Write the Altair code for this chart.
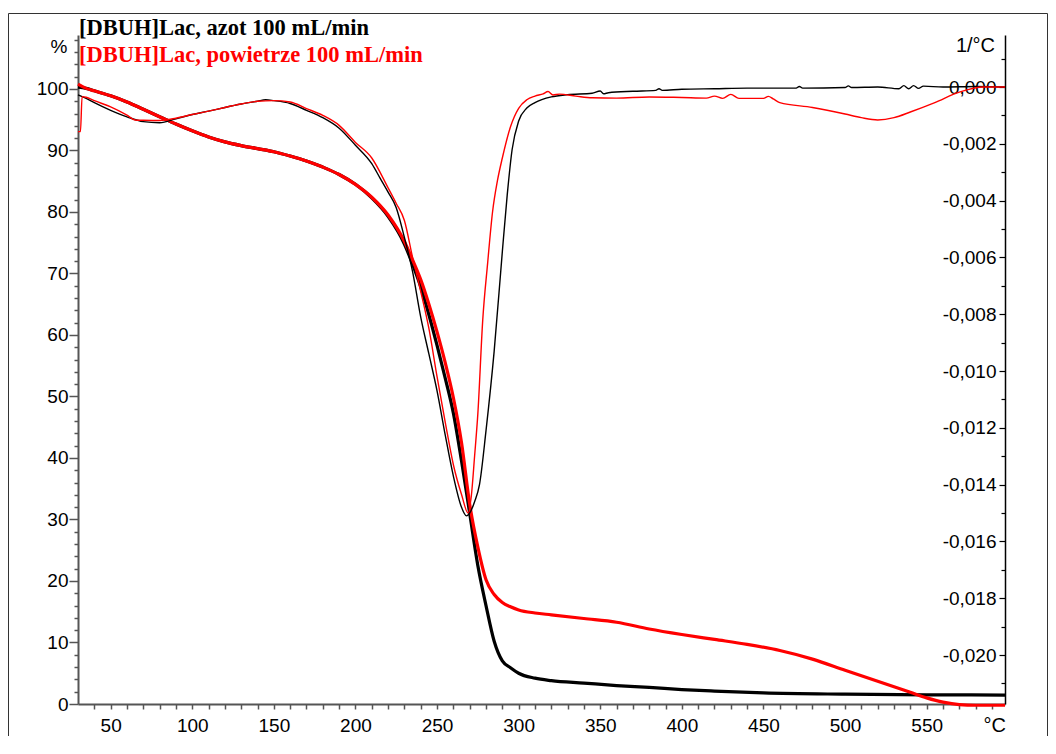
import altair as alt
import pandas as pd

# ---------------- data ----------------
# TG curves (%), left axis
BT_T = [30, 35, 40, 50, 60, 70, 80, 90, 100, 110, 120, 130, 140, 150, 160, 170, 180, 190, 200, 210,
        220, 230, 235, 240, 245, 250, 255, 260, 265, 270, 275, 280, 285, 290, 295, 300, 310, 320, 340,
        360, 380, 400, 420, 450, 500, 550, 598]
BT_V = [100.3, 100.1, 99.7, 98.9, 97.9, 96.7, 95.5, 94.3, 93.2, 92.2, 91.4, 90.8, 90.3, 89.8, 89.1,
        88.3, 87.3, 86.1, 84.5, 82.3, 79.3, 74.8, 71.5, 67.8, 63.3, 58.3, 53.0, 47.3, 39.5, 31.0, 22.5,
        16.0, 10.2, 7.0, 5.9, 5.0, 4.2, 3.8, 3.4, 3.0, 2.7, 2.35, 2.1, 1.8, 1.6, 1.5, 1.45]

RT_T = [30, 35, 40, 50, 60, 70, 80, 90, 100, 110, 120, 130, 140, 150, 160, 170, 180, 190, 200, 210,
        220, 230, 235, 240, 245, 250, 255, 260, 265, 270, 275, 280, 285, 290, 295, 300, 310, 320, 340,
        360, 380, 400, 420, 440, 460, 480, 500, 510, 520, 530, 540, 550, 560, 570, 580, 598]
RT_V = [100.8, 100.1, 99.7, 98.9, 97.9, 96.7, 95.5, 94.3, 93.2, 92.2, 91.4, 90.8, 90.3, 89.8, 89.1,
        88.3, 87.3, 86.1, 84.5, 82.4, 79.5, 75.2, 72.2, 69.0, 65.0, 60.5, 55.5, 49.8, 42.5, 32.5, 25.5,
        20.2, 17.8, 16.5, 15.8, 15.3, 14.8, 14.5, 13.9, 13.3, 12.2, 11.3, 10.5, 9.7, 8.7, 7.3, 5.5,
        4.6, 3.7, 2.8, 1.9, 1.0, 0.3, -0.1, -0.2, -0.2]

# DTG curves (1/°C), right axis
BD_T = [30, 35, 40, 50, 60, 70, 80, 90, 100, 110, 120, 130, 140, 145, 150, 160, 170, 180, 190, 200,
        210, 215, 220, 225, 230, 235, 240, 245, 250, 255, 260, 265, 268, 270, 273, 276, 280, 285, 290,
        293, 296, 300, 305, 310, 320, 330, 345, 350, 352, 355, 370, 384, 386, 388, 400, 420, 440, 470,
        472, 474, 500, 502, 504, 520, 533, 536, 539, 542, 545, 548, 560, 580, 598]
BD_V = [-0.00028, -0.00040, -0.00055, -0.00082, -0.00105, -0.00122, -0.00126, -0.00112, -0.00097,
        -0.00085, -0.00072, -0.00060, -0.00050, -0.00045, -0.00048, -0.00058, -0.00082, -0.00108,
        -0.00145, -0.00205, -0.00270, -0.00320, -0.00370, -0.00425, -0.00530, -0.00650, -0.00810,
        -0.00940, -0.01070, -0.01225, -0.01370, -0.01480, -0.01510, -0.01500, -0.01460, -0.01400,
        -0.01210, -0.00930, -0.00580, -0.00380, -0.00220, -0.00120, -0.00074, -0.00055, -0.00035,
        -0.00027, -0.00022, -0.00014, -0.00024, -0.00020, -0.00015, -0.00012, -0.00006, -0.00012,
        -0.00008, -0.00006, -0.00004, -0.00004, 0.00002, -0.00004, -0.00002, 0.00004, -0.00002,
        0.00000, -0.00006, 0.00005, -0.00006, 0.00005, -0.00005, 0.00003, 0.00000, 0.00002, 0.00000]

RD_T = [30, 31.5, 32.5, 35, 40, 50, 60, 65, 70, 80, 90, 100, 110, 120, 130, 140, 150, 160, 170, 180,
        190, 200, 210, 220, 225, 230, 235, 240, 245, 250, 255, 260, 265, 269, 271, 273, 275, 278, 281,
        284, 287, 290, 295, 300, 305, 310, 315, 318, 321, 325, 335, 345, 360, 380, 400, 415, 420, 425,
        430, 435, 450, 453, 456, 460, 480, 500, 510, 520, 530, 540, 555, 570, 585, 598]
RD_V = [-0.00157, -0.00157, -0.00034, -0.00036, -0.00048, -0.00070, -0.00099, -0.00116, -0.00117,
        -0.00118, -0.00110, -0.00097, -0.00085, -0.00072, -0.00060, -0.00050, -0.00048, -0.00053,
        -0.00076, -0.00100, -0.00135, -0.00195, -0.00250, -0.00355, -0.00410, -0.00470, -0.00600,
        -0.00720, -0.00850, -0.01020, -0.01180, -0.01330, -0.01435, -0.01500, -0.01440, -0.01300,
        -0.01150, -0.00820, -0.00620, -0.00440, -0.00330, -0.00250, -0.00140, -0.00075, -0.00045,
        -0.00032, -0.00024, -0.00016, -0.00028, -0.00025, -0.00032, -0.00038, -0.00039, -0.00035,
        -0.00037, -0.00039, -0.00032, -0.00040, -0.00026, -0.00040, -0.00040, -0.00033, -0.00042,
        -0.00055, -0.00072, -0.00095, -0.00108, -0.00116, -0.00108, -0.00088, -0.00055, -0.00018,
        0.00000, 0.00000]

SERIES_NAMES = ["[DBUH]Lac, azot 100 mL/min", "[DBUH]Lac, powietrze 100 mL/min"]
SERIES_COLORS = ["#000000", "#ff0000"]

# axis ticks
X_TICKS = list(range(40, 600, 10))
Y_TICKS = list(range(0, 110, 2))
R_TICKS = [-0.021, -0.020, -0.019, -0.018, -0.017, -0.016, -0.015, -0.014, -0.013, -0.012, -0.011,
           -0.010, -0.009, -0.008, -0.007, -0.006, -0.005, -0.004, -0.003, -0.002, -0.001, 0.0, 0.001]

X_DOM = [30, 598]
Y_DOM = [0, 108.78]
R_DOM = [-0.021725, 0.001831]

W, H = 927, 669
FONT = "Liberation Sans"
AX_GRAY = "#555555"

x_enc = alt.X(
    "T:Q",
    scale=alt.Scale(domain=X_DOM, nice=False, zero=False),
    axis=alt.Axis(values=X_TICKS, labelExpr="datum.value % 50 === 0 ? datum.value : ''",
                  title=None, tickSize=5, labelPadding=7, labelFontSize=19, labelFont=FONT,
                  labelColor="black", domainColor=AX_GRAY, domainWidth=2, tickColor=AX_GRAY,
                  tickWidth=1.5, grid=False, labelFlush=False, labelOverlap=False, labelBound=False),
)

left_axis = alt.Axis(values=Y_TICKS,
                     labelExpr="datum.value % 10 === 0 && datum.value <= 100 ? datum.value : ''",
                     title=None,
                     tickSize={"condition": {"test": "datum.value % 10 === 0", "value": 9}, "value": 4},
                     labelPadding=1, labelFontSize=19, labelFont=FONT, labelColor="black",
                     domainColor=AX_GRAY, domainWidth=2, tickColor=AX_GRAY, tickWidth=1.5, grid=False,
                     labelOverlap=False, labelFlush=False, labelBound=False)

right_axis = alt.Axis(values=R_TICKS, orient="left", offset=-W,
                      labelExpr="abs(round(datum.value*1000)) % 2 === 0 ? "
                                "(datum.value < -0.0000001 ? '-' : '') + "
                                "replace(format(abs(datum.value), '.3f'), '.', ',') : ''",
                      title=None,
                      tickSize={"condition": {"test": "abs(round(datum.value*1000)) % 2 === 0",
                                              "value": 6}, "value": 4},
                      labelPadding=3, labelFontSize=19, labelFont=FONT, labelColor="black",
                      domainColor="black", domainWidth=1.5, tickColor="black", tickWidth=1.2,
                      grid=False, labelOverlap=False, labelFlush=False, labelBound=False)


def df(t, v):
    return pd.DataFrame({"T": t, "v": v})


def tg_line(t, v, color):
    return alt.Chart(df(t, v)).mark_line(color=color, strokeWidth=3.2, clip=False,
                                         interpolate="monotone").encode(
        x=x_enc, y=alt.Y("v:Q", scale=alt.Scale(domain=Y_DOM, nice=False, zero=False), axis=left_axis))


def dtg_line(t, v, color):
    return alt.Chart(df(t, v)).mark_line(color=color, strokeWidth=1.4, clip=False,
                                         interpolate="monotone").encode(
        x=x_enc, y=alt.Y("v:Q", scale=alt.Scale(domain=R_DOM, nice=False, zero=False), axis=right_axis))


tg = alt.layer(tg_line(BT_T, BT_V, SERIES_COLORS[0]), tg_line(RT_T, RT_V, SERIES_COLORS[1]))
dtg = alt.layer(dtg_line(BD_T, BD_V, SERIES_COLORS[0]), dtg_line(RD_T, RD_V, SERIES_COLORS[1]))


def label(text, x, y, size, color="black", align="left", font=FONT, weight="normal"):
    return alt.Chart(pd.DataFrame({"t": [text]})).mark_text(
        align=align, baseline="alphabetic", fontSize=size, font=font, fontWeight=weight, color=color
    ).encode(text="t:N", x=alt.value(x), y=alt.value(y))


texts = [
    label(SERIES_NAMES[0], 1, 0, 22.5, SERIES_COLORS[0], font="Liberation Serif", weight="bold"),
    label(SERIES_NAMES[1], 1, 27, 22.5, SERIES_COLORS[1], font="Liberation Serif", weight="bold"),
    label("%", -19, 18, 19, align="center"),
    label("1/°C", 917, 17, 20, align="right"),
    label("°C", 928, 697, 20, align="right"),
]

frame = alt.Chart(pd.DataFrame({"a": [0]})).mark_rect(
    fill="transparent", stroke="#333333", strokeWidth=1, clip=False
).encode(x=alt.value(-69.5), x2=alt.value(969.5), y=alt.value(-21.5), y2=alt.value(760))

chart = alt.layer(tg, dtg, *texts, frame).resolve_scale(y="independent").properties(
    width=W, height=H,
    autosize=alt.AutoSizeParams(type="none"),
    padding={"left": 70, "top": 27, "right": 43, "bottom": 32},
    background="white",
).configure_view(stroke=None)

chart.save("out.html", embed_options={"renderer": "svg", "actions": False})
